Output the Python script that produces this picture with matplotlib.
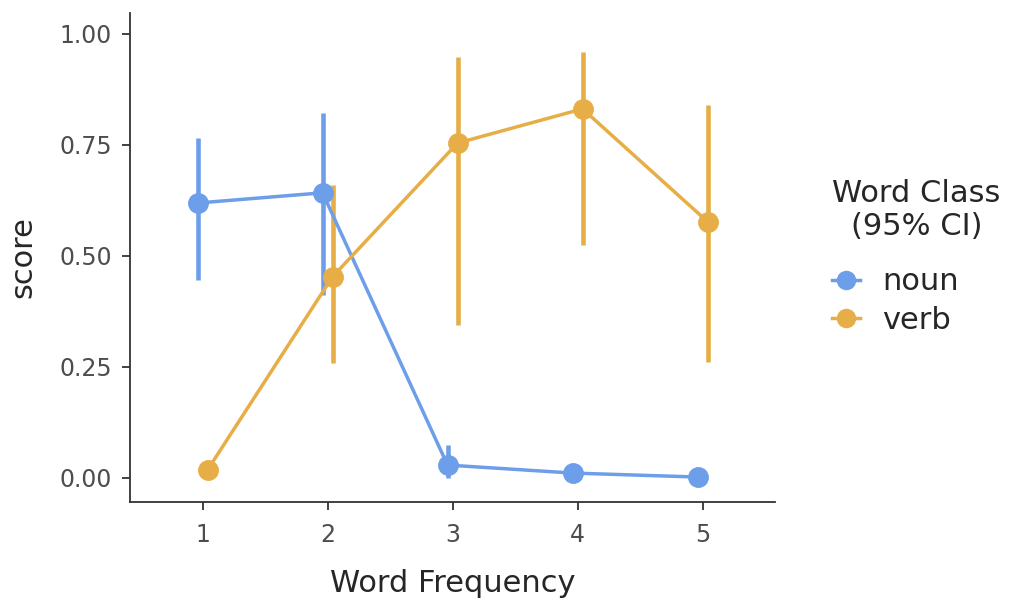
import numpy as np
import matplotlib.pyplot as plt
from matplotlib.lines import Line2D

plt.rcParams['font.family'] = ['DejaVu Sans']

# --- data ---
freq = [1, 2, 3, 4, 5]
noun_score = [0.619, 0.642, 0.029, 0.011, 0.002]
noun_lo = [0.446, 0.412, 0.0, 0.0, 0.0]
noun_hi = [0.766, 0.822, 0.074, 0.011, 0.002]
verb_score = [0.018, 0.453, 0.754, 0.831, 0.577]
verb_lo = [0.0, 0.259, 0.345, 0.525, 0.261]
verb_hi = [0.04, 0.66, 0.948, 0.96, 0.84]
classes = ['noun', 'verb']

noun_col = '#6d9eea'
verb_col = '#e7ae47'
text_col = '#262626'
dodge = 0.04

fig = plt.figure(figsize=(10.11, 6.04), dpi=100)
ax = fig.add_axes([0.1286, 0.169, 0.638, 0.8096])

for score, lo, hi, col, off in [(noun_score, noun_lo, noun_hi, noun_col, -dodge),
                                (verb_score, verb_lo, verb_hi, verb_col, dodge)]:
    xs = np.array(freq) + off
    ax.vlines(xs, lo, hi, color=col, lw=3.3, zorder=2)
    ax.plot(xs, score, color=col, lw=2.5, marker='o', ms=14, zorder=3)

ax.set_xlim(0.42, 5.58)
ax.set_ylim(-0.054, 1.047)
ax.set_xticks(freq)
ax.set_yticks([0, 0.25, 0.5, 0.75, 1.0])
ax.set_yticklabels(['0.00', '0.25', '0.50', '0.75', '1.00'])
ax.tick_params(labelsize=17, colors='#333333', labelcolor='#4d4d4d',
               length=6, width=1.3, pad=7)
ax.tick_params(axis='x', pad=9)
for s in ['top', 'right']:
    ax.spines[s].set_visible(False)
for s in ['left', 'bottom']:
    ax.spines[s].set_color('#333333')
    ax.spines[s].set_linewidth(1.3)
ax.set_xlabel('Word Frequency', fontsize=22, color=text_col, labelpad=16)
ax.set_ylabel('score', fontsize=22, color=text_col, labelpad=16)

# legend title, two centred lines
fig.text(916 / 1011, 1 - 202 / 604, 'Word Class', fontsize=22, color=text_col,
         ha='center', va='baseline')
fig.text(917 / 1011, 1 - 235 / 604, '(95% CI)', fontsize=22, color=text_col,
         ha='center', va='baseline')

handles = [Line2D([], [], color=noun_col, lw=2.5, marker='o', ms=13),
           Line2D([], [], color=verb_col, lw=2.5, marker='o', ms=13)]
leg = fig.legend(handles, classes, loc='center left',
                 bbox_to_anchor=(832 / 1011, 1 - 301 / 604), frameon=False,
                 borderpad=0, borderaxespad=0, fontsize=22, handlelength=0.92,
                 handletextpad=0.72, labelspacing=0.3, labelcolor=text_col)

fig.savefig('out.png', dpi=100)
